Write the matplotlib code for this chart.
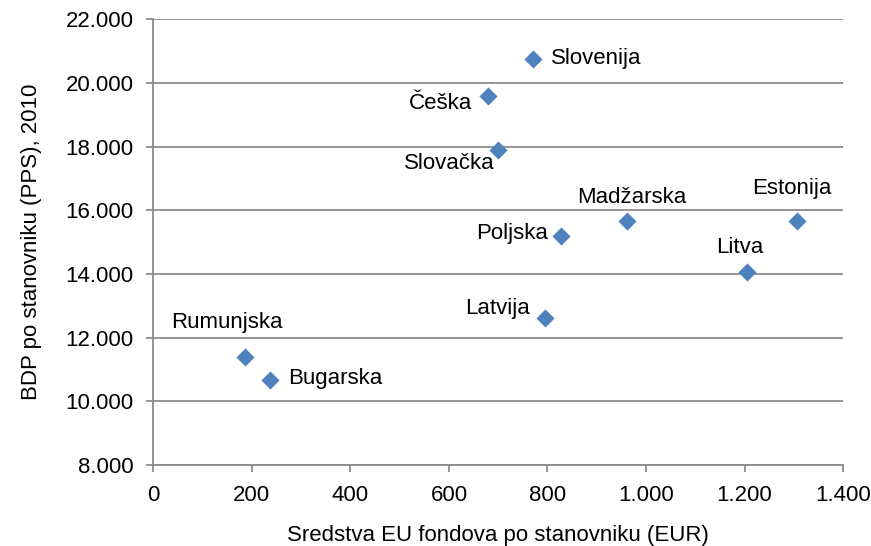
import matplotlib
matplotlib.use("Agg")
import matplotlib.pyplot as plt
from matplotlib.ticker import FuncFormatter

countries = ["Slovenija", "Češka", "Slovačka", "Madžarska", "Estonija",
             "Poljska", "Litva", "Latvija", "Rumunjska", "Bugarska"]
eu_funds = [771, 680, 700, 962, 1307, 828, 1205, 795, 187, 237]
gdp_pc = [20750, 19580, 17880, 15660, 15660, 15190, 14060, 12610, 11390, 10670]

# label offsets in pixels (dx, dy) and alignment
offsets = {
    "Slovenija": (18, 0, "left", "center"),
    "Češka": (-16, -7, "right", "center"),
    "Slovačka": (-4, -13, "right", "center"),
    "Madžarska": (4, 24, "center", "center"),
    "Estonija": (-5, 33, "center", "center"),
    "Poljska": (-13, 3, "right", "center"),
    "Litva": (-7, 25, "center", "center"),
    "Latvija": (-15, 10, "right", "center"),
    "Rumunjska": (-19, 35, "center", "center"),
    "Bugarska": (18, 2, "left", "center"),
}

plt.rcParams['font.family'] = ['Liberation Sans', 'DejaVu Sans']
FS = 16

fig = plt.figure(figsize=(8.71, 5.46), dpi=100)
ax = fig.add_axes([0.176, 0.148, 0.792, 0.817])

ax.scatter(eu_funds, gdp_pc, marker='D', s=85, color='#4F81BD', zorder=3, linewidths=0)

for c, x, y in zip(countries, eu_funds, gdp_pc):
    dx, dy, ha, va = offsets[c]
    ax.annotate(c, (x, y), xytext=(dx, dy), textcoords='offset pixels',
                ha=ha, va=va, fontsize=FS, color='black')

ax.set_xlim(0, 1400)
ax.set_ylim(8000, 22000)
ax.set_xticks(range(0, 1401, 200))
ax.set_yticks(range(8000, 22001, 2000))

fmt = FuncFormatter(lambda v, p: f"{int(v):,}".replace(",", "."))
ax.xaxis.set_major_formatter(fmt)
ax.yaxis.set_major_formatter(fmt)

ax.grid(axis='y', color='#8C8C8C', linewidth=1.3)
ax.set_axisbelow(True)
for s in ['top', 'right']:
    ax.spines[s].set_visible(False)
for s in ['left', 'bottom']:
    ax.spines[s].set_color('#8C8C8C')
    ax.spines[s].set_linewidth(1.3)
ax.tick_params(axis='both', colors='#8C8C8C', labelcolor='black', labelsize=FS,
               length=5, width=1.3, direction='out')
ax.tick_params(axis='x', pad=9)
ax.tick_params(axis='y', pad=9)

ax.set_xlabel("Sredstva EU fondova po stanovniku (EUR)", fontsize=FS, labelpad=14)
ax.set_ylabel("BDP po stanovniku (PPS), 2010", fontsize=FS, labelpad=17)

fig.savefig("out.png", dpi=100)
